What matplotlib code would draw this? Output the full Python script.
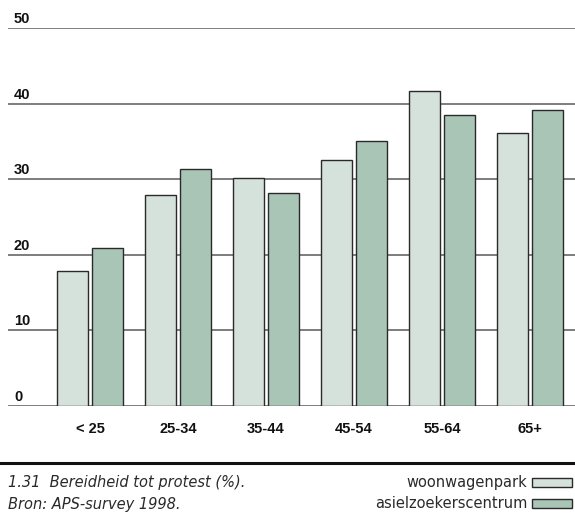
import matplotlib
matplotlib.use("Agg")
import matplotlib.pyplot as plt
import matplotlib.patches as mpatches
from matplotlib import font_manager
from matplotlib.transforms import blended_transform_factory
import numpy as np

categories = ["< 25", "25-34", "35-44", "45-54", "55-64", "65+"]
woonwagenpark = [17.8, 27.9, 30.2, 32.6, 41.7, 36.1]
asielzoekerscentrum = [20.9, 31.3, 28.2, 35.0, 38.5, 39.2]
yticks = [0, 10, 20, 30, 40, 50]
series_names = ["woonwagenpark", "asielzoekerscentrum"]
caption1 = "1.31  Bereidheid tot protest (%)."
caption2 = "Bron: APS-survey 1998."

c_light = "#d5e2db"
c_dark = "#a9c5b6"
edge = "#2a2a2a"

names = {f.name for f in font_manager.fontManager.ttflist}
narrow = 'Liberation Sans Narrow' in names
bold_family = ['Liberation Sans Narrow', 'DejaVu Sans'] if narrow else ['Liberation Sans', 'DejaVu Sans']
bold_size = 11.5 if narrow else 10.5
plt.rcParams['font.family'] = ['DejaVu Sans']

W, H = 575, 516
fig = plt.figure(figsize=(W / 100, H / 100), dpi=100)
ax = fig.add_axes([8 / W, 1 - 406 / H, (575 - 8) / W, (406 - 28) / H])
ax.set_xlim(-0.932, 5.511)
ax.set_ylim(0, 50)
ax.axis("off")

x = np.arange(len(categories))
bw = 0.358
off = 0.199
for yt in yticks:
    ax.axhline(yt, color="#5a5a5a", lw=1.1, zorder=1)
ax.bar(x - off, woonwagenpark, width=bw, color=c_light, edgecolor=edge, lw=1.0, zorder=2)
ax.bar(x + off, asielzoekerscentrum, width=bw, color=c_dark, edgecolor=edge, lw=1.0, zorder=2)

tr = blended_transform_factory(fig.transFigure, ax.transData)
for yt in yticks:
    ax.text(14 / W, yt + 0.66, str(yt), transform=tr, ha="left", va="baseline",
            fontsize=bold_size, fontweight="bold", color="#111111", clip_on=False,
            family=bold_family)

for xi, lab in zip(x, categories):
    ax.text(xi, -3.0, lab, ha="center", va="center", fontsize=bold_size,
            fontweight="bold", color="#111111", clip_on=False, family=bold_family)

# thick separator line
fig.add_artist(plt.Line2D([0, 1], [1 - 463 / H, 1 - 463 / H], transform=fig.transFigure,
                          color="#111111", lw=2.2))

fig.text(8 / W, 1 - 482.5 / H, caption1, ha="left", va="center", fontsize=10.5,
         style="italic", color="#2a2a2a")
fig.text(8 / W, 1 - 504.5 / H, caption2, ha="left", va="center", fontsize=10.5,
         style="italic", color="#2a2a2a")

for i, (name, col) in enumerate(zip(series_names, [c_light, c_dark])):
    yc = 482.5 + 21 * i
    fig.text(527 / W, 1 - yc / H, name, ha="right", va="center", fontsize=10.5,
             color="#2a2a2a")
    fig.add_artist(mpatches.Rectangle((532 / W, 1 - (yc + 4.5) / H), 40 / W, 9 / H,
                                      transform=fig.transFigure, facecolor=col,
                                      edgecolor=edge, lw=1.0))

fig.savefig("out.png", dpi=100)
